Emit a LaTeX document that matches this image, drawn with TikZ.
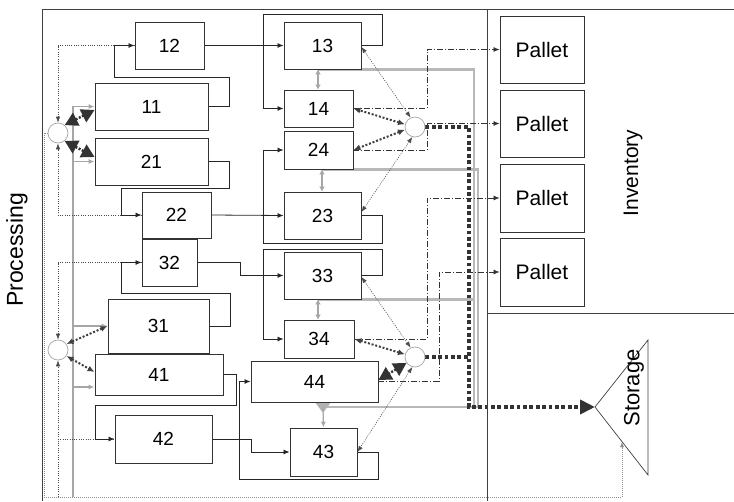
\documentclass[tikz,border=0pt]{standalone}
\usepackage{fontspec}
\setmainfont{Liberation Sans}
\usetikzlibrary{arrows.meta,calc}
\pgfdeclarelayer{bg}
\pgfsetlayers{bg,main}
\begin{document}
\begin{tikzpicture}[x=1pt,y=-1pt,
  frame/.style={draw=black!75, line width=0.8pt},
  box/.style={draw=black!80, line width=0.9pt, fill=white, inner sep=0pt, font=\fontsize{19}{19}\selectfont},
  pal/.style={box, font=\fontsize{21}{21}\selectfont, minimum width=84pt},
  circ/.style={circle, draw=black!35, line width=0.7pt, fill=white, minimum size=20pt, inner sep=0pt},
  flow/.style={draw=black!85, line width=0.8pt, -{Latex[length=6pt,width=5pt]}},
  ctl/.style={draw=black!70, line width=0.7pt, dash pattern=on 1pt off 1.3pt},
  ctla/.style={ctl, -{Latex[length=6pt,width=4.5pt]}},
  thindot/.style={draw=black!70, line width=0.6pt, dash pattern=on 1pt off 1.3pt, {Latex[length=6pt,width=4.5pt]}-{Latex[length=6pt,width=4.5pt]}},
  meddot/.style={draw=black!75, line width=2pt, dash pattern=on 2pt off 1.8pt, {Latex[length=7pt,width=6pt]}-{Latex[length=7pt,width=6pt]}},
  bigdot/.style={draw=black!80, line width=2.4pt, dash pattern=on 2pt off 1.5pt, {Triangle[length=13pt,width=14pt]}-{Triangle[length=13pt,width=14pt]}},
  heavy/.style={draw=black!80, line width=3.8pt, dash pattern=on 3.8pt off 2.6pt},
  gline/.style={draw=black!35, line width=1.2pt},
  garrow/.style={gline, -{Latex[length=6pt,width=5pt]}},
  gthick/.style={draw=black!28, line width=2.6pt},
  gda/.style={draw=black!35, line width=1.6pt, {Latex[length=5pt,width=6pt]}-{Latex[length=5pt,width=6pt]}},
  gdot/.style={draw=black!45, line width=1pt, dash pattern=on 1pt off 1pt},
  dd/.style={draw=black!80, line width=0.7pt, dash pattern=on 6pt off 2pt on 1pt off 2pt, -{Latex[length=6pt,width=5pt]}},
  lab/.style={rotate=90, inner sep=0pt}
]
\useasboundingbox (0,0) rectangle (734,501);

% frame
\draw[frame] (42,501) -- (42,9) -- (734,9);
\draw[frame] (487,9) -- (487,501);
\draw[frame] (487,313) -- (734,313);

% boxes
\node[box, minimum width=69pt,  minimum height=47pt] (b12) at (169.5,45.5) {12};
\node[box, minimum width=113pt, minimum height=47pt] (b11) at (151.5,106.5) {11};
\node[box, minimum width=113pt, minimum height=47pt] (b21) at (151.5,161.5) {21};
\node[box, minimum width=69pt,  minimum height=46pt] (b22) at (176.5,215) {22};
\node[box, minimum width=55pt,  minimum height=47pt] (b32) at (169.5,262.5) {32};
\node[box, minimum width=101pt, minimum height=54pt] (b31) at (158.5,326) {31};
\node[box, minimum width=128pt, minimum height=41pt] (b41) at (159,374.5) {41};
\node[box, minimum width=97pt,  minimum height=48pt] (b42) at (163.5,439) {42};
\node[box, minimum width=77pt,  minimum height=47pt] (b13) at (322.5,45.5) {13};
\node[box, minimum width=69pt,  minimum height=37pt] (b14) at (318.5,108.5) {14};
\node[box, minimum width=69pt,  minimum height=38pt] (b24) at (318.5,150) {24};
\node[box, minimum width=77pt,  minimum height=47pt] (b23) at (322.5,215.5) {23};
\node[box, minimum width=77pt,  minimum height=47pt] (b33) at (322.5,275.5) {33};
\node[box, minimum width=70pt,  minimum height=38pt] (b34) at (319,339) {34};
\node[box, minimum width=127pt, minimum height=41pt] (b44) at (314.5,381.5) {44};
\node[box, minimum width=67pt,  minimum height=48pt] (b43) at (323.5,452) {43};

\node[pal, minimum height=67pt] (p1) at (542,49.5) {Pallet};
\node[pal, minimum height=67pt] (p2) at (542,123.5) {Pallet};
\node[pal, minimum height=68pt] (p3) at (542,198) {Pallet};
\node[pal, minimum height=68pt] (p4) at (542,272) {Pallet};

\node[circ] (cA) at (58,133) {};
\node[circ] (cB) at (58,350) {};
\node[circ] (cC) at (415,127) {};
\node[circ] (cD) at (415,357) {};

% storage
\draw[frame, line width=0.7pt] (595,407) -- (648,340) -- (648,475) -- cycle;
\coordinate (stTip) at (595,407);
\coordinate (stIn) at (622,442);
\node[lab, font=\fontsize{22}{22}\selectfont] (stl) at (634,388) {Storage};
\node[lab, font=\fontsize{21}{21}\selectfont] (inv) at (633,173) {Inventory};
\node[lab, font=\fontsize{23}{23}\selectfont] (proc) at (17,250) {Processing};

\coordinate (gbus) at (73,497);
\coordinate (bB) at (58,497);
\coordinate (hv) at (469,407);

\begin{pgfonlayer}{bg}
% gray thick lines on the right
\draw[gthick] (b13.south -| 318,0) -| (474,407);
\draw[gthick] (b24.south -| 322,0) -| (478,407);
\draw[gthick] (b33.south -| 318,0) -- (b33.south -| 474,0);
\draw[gthick] (478,407) -- (323,407);
\fill[black!30] (315,402) -- (331,402) -- (323,413) -- cycle;
\draw[garrow] (323,407) -- (b43.north);
\draw[gda] (b13.south -| 318,0) -- (b14.north -| 318,0);
\draw[gda] (b24.south -| 322,0) -- (b23.north -| 322,0);
\draw[gda] (b33.south -| 318,0) -- (b34.north -| 318,0);

% gray feeder on the left
\draw[garrow] (gbus) |- (b11.west);
\draw[garrow] (gbus) |- (b21.west);
\draw[garrow] (gbus) |- (b31.west);
\draw[garrow] (gbus) |- (b41.west |- 0,387);

% dotted control lines on the left
\draw[gdot, -{Latex[length=5pt,width=4pt]}] (cA.west) -| (44,497) -| (stIn);
\draw[ctla] (b12.west) -| (cA.north);
\draw[ctla] (b22.west) -| (cA.south);
\draw[ctla] (b32.west) -| (cB.north);
\draw[ctla] (bB) -- (cB.south);
\draw[ctl] (bB |- b42.west) -- (b42.west);

% black flows
\draw[flow] (b12.east) -- (b13.west);
\draw[flow] (b11.east) -- (229,106.5) -- (229,77) -- (114,77) -- (114,45.5) -- (b12.west);
\draw[flow] (b13.east) -- (382,45.5) -- (382,14) -- (263,14) -- (263,108.5) -- (b14.west);
\draw[flow] (b21.east) -- (229,161.5) -- (229,188) -- (121,188) -- (121,215) -- (b22.west);
\draw[flow] (b22.east) -- (b23.west);
\draw[flow] (b23.east) -- (382,215.5) -- (382,243) -- (263,243) -- (263,150) -- (b24.west);
\draw[flow] (b31.east) -- (230,326) -- (230,293) -- (121,293) -- (121,262.5) -- (b32.west);
\draw[flow] (b32.east) -- (240,262.5) -- (240,275.5) -- (b33.west);
\draw[flow] (b33.east) -- (382,275.5) -- (382,249) -- (263,249) -- (263,339) -- (b34.west);
\draw[flow] (b41.east) -- (236,374.5) -- (236,405) -- (95,405) -- (95,439) -- (b42.west);
\draw[flow] (b42.east) -- (251,439) -- (251,452) -- (b43.west);
\draw[flow] (b43.east) -- (378,452) -- (378,479) -- (239,479) -- (239,381.5) -- (b44.west);

% dash-dot lines to pallets
\draw[dd] (b14.east) -| (427,49.5) -- (p1.west);
\draw[dd] (b24.east) -| (427,123.5) -- (p2.west);
\draw[dd] (b34.east) -| (427,198) -- (p3.west);
\draw[dd] (b44.east |- 0,381) -| (439,272) -- (p4.west);

% heavy dotted to storage
\draw[heavy, -{Triangle[length=15pt,width=14pt]}] (cC.east) -| (hv) -- (stTip);
\draw[heavy] (cD.east) -- (cD.east -| hv);

% circle links
\draw[bigdot] (cA.50) -- (b11.west |- 0,110);
\draw[bigdot] (cA.-50) -- (b21.west |- 0,157);
\draw[bigdot] (cD.215) -- (b44.east |- 0,380);
\draw[meddot] (cB.35) -- (b31.west);
\draw[meddot] (cB.-35) -- (b41.west |- 0,372);
\draw[meddot] (cC.165) -- (b14.east);
\draw[meddot] (cC.195) -- (b24.east);
\draw[meddot] (cD.165) -- (b34.east);
\draw[thindot] (cC.115) -- (b13.east |- 0,47);
\draw[thindot] (cC.255) -- (b23.east |- 0,212);
\draw[thindot] (cD.115) -- (b33.east |- 0,277);
\draw[thindot] (cD.255) -- (b43.east);
\end{pgfonlayer}
\end{tikzpicture}
\end{document}
